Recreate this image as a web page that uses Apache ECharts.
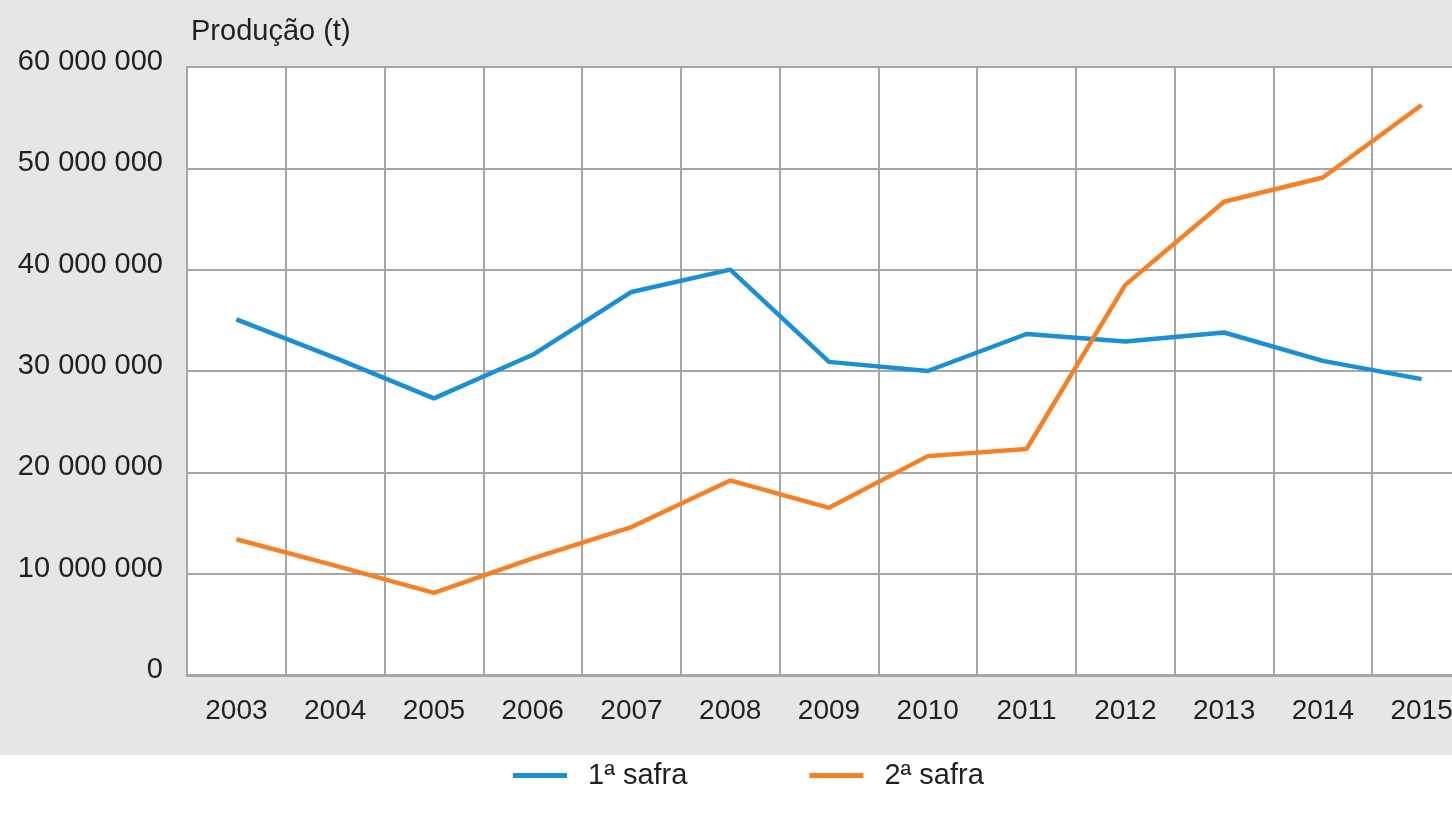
<!DOCTYPE html>
<html>
<head>
<meta charset="utf-8">
<script src="https://cdn.jsdelivr.net/npm/echarts@6/dist/echarts.min.js"></script>
<style>
  html, body { margin: 0; padding: 0; background: #ffffff; }
  #chart { width: 1452px; height: 813px; }
</style>
</head>
<body>
<div id="chart"></div>
<script>
// anos
var years = ['2003', '2004', '2005', '2006', '2007', '2008', '2009', '2010', '2011', '2012', '2013', '2014', '2015'];
// produção em toneladas
var safra1 = [35100000, 31300000, 27300000, 31600000, 37800000, 40000000, 30900000, 30000000, 33650000, 32900000, 33800000, 31000000, 29200000];
var safra2 = [13400000, 10800000, 8100000, 11500000, 14600000, 19200000, 16500000, 21600000, 22300000, 38500000, 46700000, 49100000, 56250000];
var yTicks = [0, 10000000, 20000000, 30000000, 40000000, 50000000, 60000000];

var font = 'Liberation Sans, Arial, sans-serif';
var textColor = '#231f20';
var gridColor = '#a6a6a6';

function fmt(v) {
  return String(v).replace(/\B(?=(\d{3})+(?!\d))/g, ' ');
}

var chart = echarts.init(document.getElementById('chart'));

chart.setOption({
  backgroundColor: '#ffffff',
  animation: false,
  graphic: [{
    type: 'rect',
    left: 0, top: 0, z: -10,
    shape: { width: 1452, height: 755 },
    style: { fill: '#e6e6e6' }
  }],
  title: {
    text: 'Produção (t)',
    left: 186, top: 12,
    textStyle: { fontFamily: font, fontSize: 29, fontWeight: 'normal', color: textColor }
  },
  legend: {
    left: 508, top: 756,
    itemWidth: 54, itemHeight: 5,
    itemGap: 122,
    icon: 'rect',
    textStyle: { fontFamily: font, fontSize: 29, color: textColor, padding: [0, 0, 0, 16] },
    data: ['1ª safra', '2ª safra']
  },
  grid: {
    left: 187, top: 67, width: 1284, height: 608,
    show: true, backgroundColor: '#ffffff', borderWidth: 0,
    containLabel: false,
    outerBoundsMode: 'none'
  },
  xAxis: {
    type: 'category',
    data: years,
    boundaryGap: true,
    axisLine: { show: true, lineStyle: { color: gridColor, width: 3 } },
    axisTick: { show: false },
    splitLine: { show: true, interval: 0, lineStyle: { color: gridColor, width: 2 } },
    axisLabel: { interval: 0, margin: 22, fontFamily: font, fontSize: 28, color: textColor }
  },
  yAxis: {
    type: 'value',
    min: 0, max: 60000000, interval: 10000000,
    axisLine: { show: true, lineStyle: { color: gridColor, width: 2 } },
    axisTick: { show: false },
    splitLine: { show: true, lineStyle: { color: gridColor, width: 2 } },
    axisLabel: {
      margin: 24, fontFamily: font, fontSize: 29, color: textColor,
      verticalAlign: 'bottom', lineHeight: 10,
      formatter: function (v) { return yTicks.indexOf(v) >= 0 ? fmt(v) : ''; }
    }
  },
  series: [
    {
      name: '1ª safra', type: 'line', data: safra1,
      symbol: 'none', color: '#1b8fd5',
      lineStyle: { width: 4.5, color: '#1b8fd5' }
    },
    {
      name: '2ª safra', type: 'line', data: safra2,
      symbol: 'none', color: '#f58025',
      lineStyle: { width: 4.5, color: '#f58025' }
    }
  ]
});
</script>
</body>
</html>
